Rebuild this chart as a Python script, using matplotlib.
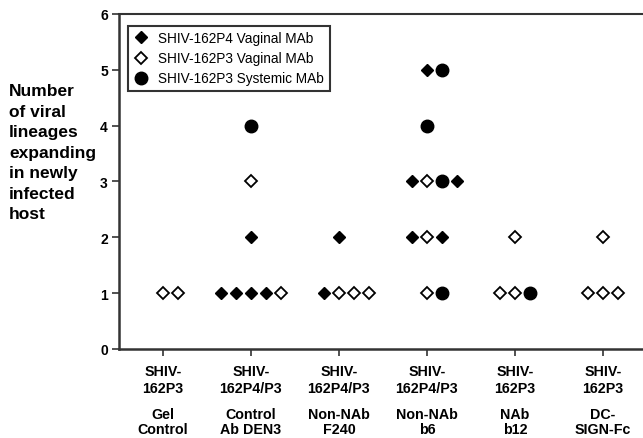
import matplotlib.pyplot as plt
import matplotlib.transforms as mtransforms
import numpy as np

plt.rcParams['font.family'] = ['Liberation Sans', 'DejaVu Sans']

# x tick labels (strain / treatment)
strains = ['SHIV-\n162P3', 'SHIV-\n162P4/P3', 'SHIV-\n162P4/P3', 'SHIV-\n162P4/P3', 'SHIV-\n162P3', 'SHIV-\n162P3']
treatments = ['Gel\nControl', 'Control\nAb DEN3', 'Non-NAb\nF240', 'Non-NAb\nb6', 'NAb\nb12', 'DC-\nSIGN-Fc']

# each point: group index, number of lineages
p4_vag_group = [1, 1, 1, 1, 1, 2, 2, 3, 3, 3, 3, 3]
p4_vag_value = [1, 1, 1, 1, 2, 1, 2, 2, 2, 3, 3, 5]
p3_vag_group = [0, 0, 1, 1, 2, 2, 2, 3, 3, 3, 4, 4, 4, 5, 5, 5, 5]
p3_vag_value = [1, 1, 1, 3, 1, 1, 1, 1, 2, 3, 1, 1, 2, 1, 1, 1, 2]
p3_sys_group = [1, 3, 3, 3, 3, 4]
p3_sys_value = [4, 1, 3, 4, 5, 1]

# horizontal slot of each point inside its group (to avoid overlap)
p4_vag_slot = [-2, -1, 0, 1, 0, -1, 0, -1, 1, -1, 2, 0]
p3_vag_slot = [0, 1, 2, 0, 0, 1, 2, 0, 0, 0, -1, 0, 0, -1, 0, 1, 0]
p3_sys_slot = [0, 1, 1, 0, 1, 1]

step = 0.172

fig = plt.figure(figsize=(6.43, 4.39), dpi=100)
ax = fig.add_axes([0.185, 0.203, 0.821, 0.763])

ax.plot(np.array(p4_vag_group) + step * np.array(p4_vag_slot), p4_vag_value, 'D',
        color='black', markersize=6.3, linestyle='none', label='SHIV-162P4 Vaginal MAb')
ax.plot(np.array(p3_vag_group) + step * np.array(p3_vag_slot), p3_vag_value, 'D',
        markerfacecolor='white', markeredgecolor='black', markeredgewidth=1.3,
        markersize=6.3, linestyle='none', label='SHIV-162P3 Vaginal MAb')
ax.plot(np.array(p3_sys_group) + step * np.array(p3_sys_slot), p3_sys_value, 'o',
        color='black', markersize=9, linestyle='none', label='SHIV-162P3 Systemic MAb')

ax.set_xlim(-0.5, 5.5)
ax.set_ylim(0, 6)
ax.set_yticks(range(7))
ax.set_yticklabels([str(i) for i in range(7)], fontweight='bold', fontsize=10)
ax.set_xticks(range(len(strains)))
ax.set_xticklabels(strains, fontweight='bold', fontsize=10.3, linespacing=1.22)

# second row of category labels (treatment)
trans = mtransforms.blended_transform_factory(ax.transData, fig.transFigure)
for i, t in enumerate(treatments):
    ax.text(i, 1 - 408 / 439, t, transform=trans, ha='center', va='top',
            fontweight='bold', fontsize=10.3, linespacing=1.05, clip_on=False)

for side in ['left', 'bottom']:
    ax.spines[side].set_linewidth(1.8)
    ax.spines[side].set_color('#333333')
ax.spines['top'].set_linewidth(1.5)
ax.spines['top'].set_color('#333333')
ax.spines['right'].set_visible(False)
ax.tick_params(axis='both', direction='out', length=5, width=1.2, color='#333333', pad=3)
ax.tick_params(axis='x', pad=6)

leg = ax.legend(loc='upper left', bbox_to_anchor=(0.005, 0.985), fontsize=9.8,
                frameon=True, fancybox=False, handlelength=1.0, handletextpad=0.8,
                borderpad=0.4, labelspacing=0.45, borderaxespad=0.5)
leg.get_frame().set_edgecolor('black')
leg.get_frame().set_linewidth(1.5)

fig.text(0.014, 0.808, 'Number\nof viral\nlineages\nexpanding\nin newly\ninfected\nhost',
         fontweight='bold', fontsize=12.5, va='top', ha='left', linespacing=1.46)

fig.savefig('out.png', dpi=100)
